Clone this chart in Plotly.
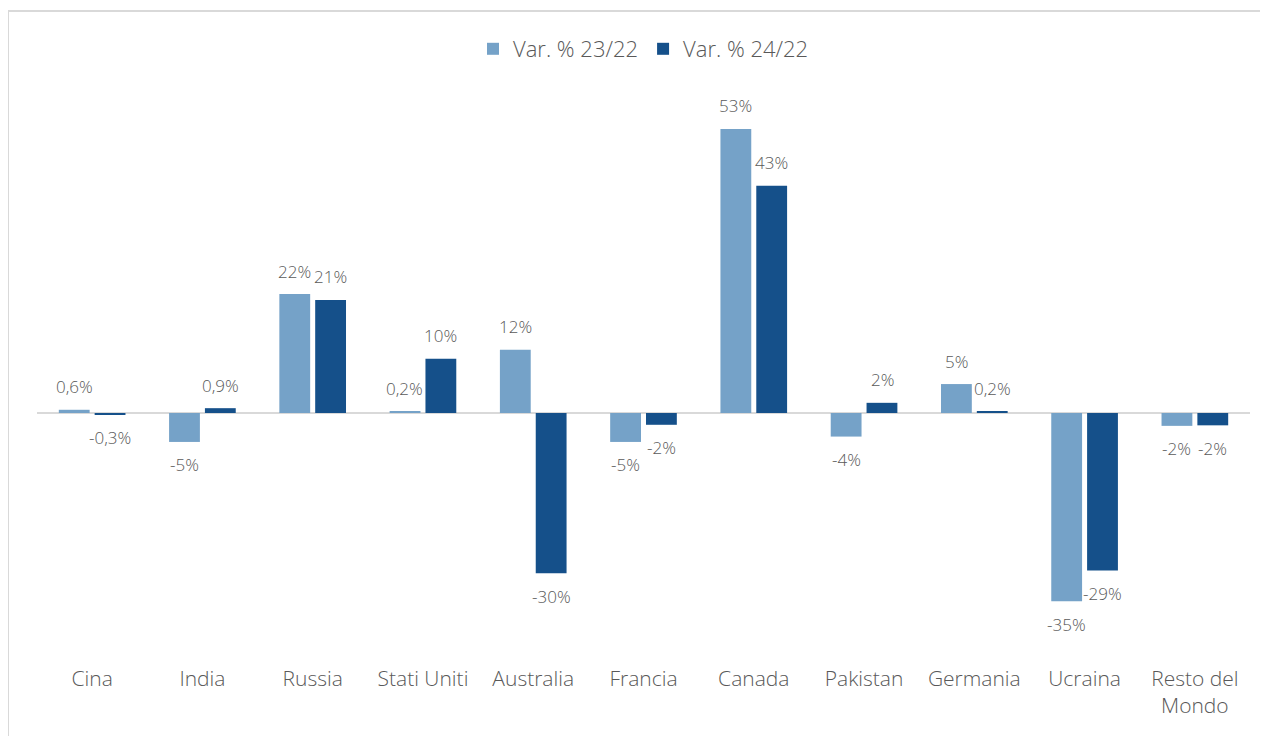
import plotly.graph_objects as go

categories = ["Cina", "India", "Russia", "Stati Uniti", "Australia", "Francia",
              "Canada", "Pakistan", "Germania", "Ucraina", "Resto del<br>Mondo"]
var_23_22 = [0.6, -5.4, 22.2, 0.2, 11.8, -5.4, 53.0, -4.4, 5.4, -35.1, -2.4]
var_24_22 = [-0.3, 0.9, 21.1, 10.1, -29.9, -2.2, 42.4, 1.9, 0.2, -29.4, -2.3]
labels_23_22 = ["0,6%", "-5%", "22%", "0,2%", "12%", "-5%", "53%", "-4%", "5%", "-35%", "-2%"]
labels_24_22 = ["-0,3%", "0,9%", "21%", "10%", "-30%", "-2%", "43%", "2%", "0,2%", "-29%", "-2%"]

FONT = "Open Sans"
GREY = "#595959"

# page body has an 8px margin: the figure is offset by (8, 8)
W, H = 1260, 728
L, R, T, B = 29, 18, 82, 96
PW = W - L - R
PH = H - T - B
SLOT = 18  # half the distance between the two bars of a group, px

fig = go.Figure()
fig.add_trace(go.Bar(x=categories, y=var_23_22, name="Var. % 23/22",
                     marker=dict(color="#75A2C8", line=dict(width=0))))
fig.add_trace(go.Bar(x=categories, y=var_24_22, name="Var. % 24/22",
                     marker=dict(color="#15508A", line=dict(width=0))))

annotations = []
for vals, labs, dx in ((var_23_22, labels_23_22, -SLOT), (var_24_22, labels_24_22, SLOT)):
    for c, v, t in zip(categories, vals, labs):
        annotations.append(dict(
            x=c, y=v, xref="x", yref="y", text=t, showarrow=False,
            xshift=dx, yshift=23 if v >= 0 else -23, yanchor="middle",
            font=dict(size=17, color=GREY, family=FONT, weight=300),
        ))

fig.update_layout(
    width=W, height=H,
    paper_bgcolor="white", plot_bgcolor="white",
    margin=dict(l=L, r=R, t=T, b=B),
    barmode="group", bargap=0.35, bargroupgap=0.14,
    font=dict(family=FONT, color=GREY),
    legend=dict(orientation="h", x=0.5, xanchor="center", y=1.0 + (T - 41) / PH,
                yanchor="middle", font=dict(size=22, color=GREY, family=FONT, weight=300),
                itemwidth=30, traceorder="normal"),
    annotations=annotations,
    xaxis=dict(showgrid=False, showline=False, ticks="",
               tickfont=dict(size=21, color=GREY, family=FONT, weight=300),
               ticklabelstandoff=24),
    yaxis=dict(range=[-42.35, 60.26], showgrid=False, showticklabels=False,
               zeroline=True, zerolinecolor="#D9D9D9", zerolinewidth=2,
               showline=False, ticks=""),
    shapes=[dict(type="rect", xref="paper", yref="paper",
                 x0=(0 - L) / PW, x1=(W + 10 - L) / PW,
                 y0=(PH + T - (H + 10)) / PH, y1=(PH + T - 3) / PH,
                 line=dict(color="#D9D9D9", width=2), fillcolor="rgba(0,0,0,0)",
                 layer="below")],
)

fig.write_html("out.html")
